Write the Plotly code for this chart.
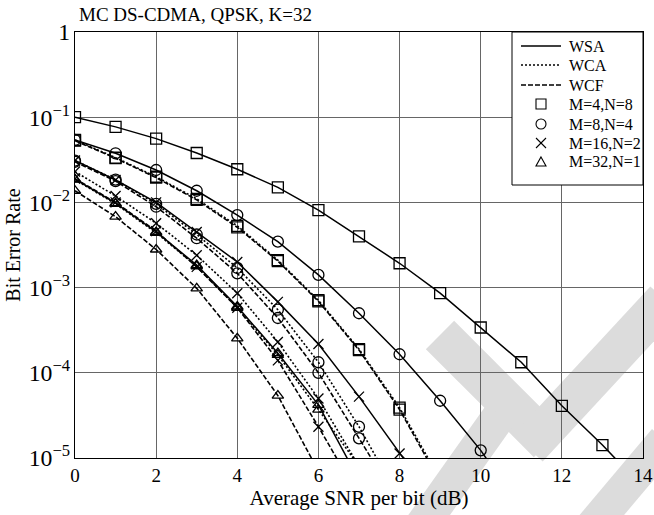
import math
import plotly.graph_objects as go

# ---------------- data ----------------
snr_db = list(range(0, 15))

sq_wsa = [1.0e-1, 7.7e-2, 5.6e-2, 3.8e-2, 2.45e-2, 1.5e-2, 8.1e-3, 4.0e-3, 1.93e-3,
          8.6e-4, 3.4e-4, 1.33e-4, 4.1e-5, 1.42e-5, 4.5e-6]
sq_wca = [5.4e-2, 3.35e-2, 2.0e-2, 1.1e-2, 5.3e-3, 2.1e-3, 7.1e-4, 1.9e-4, 3.9e-5, 5.6e-6]
sq_wcf = [5.3e-2, 3.3e-2, 1.95e-2, 1.07e-2, 5.1e-3, 2.05e-3, 6.9e-4, 1.85e-4, 3.7e-5, 5.2e-6]

ci_wsa = [5.4e-2, 3.77e-2, 2.4e-2, 1.37e-2, 7.1e-3, 3.46e-3, 1.41e-3, 5.0e-4, 1.65e-4,
          4.7e-5, 1.23e-5, 2.5e-6]
ci_wca = [3.1e-2, 1.85e-2, 9.6e-3, 4.2e-3, 1.7e-3, 5.5e-4, 1.33e-4, 2.33e-5, 3.3e-6]
ci_wcf = [3.0e-2, 1.78e-2, 8.9e-3, 3.8e-3, 1.47e-3, 4.4e-4, 1.0e-4, 1.7e-5, 2.9e-6]

x_wsa = [3.1e-2, 1.83e-2, 1.0e-2, 4.5e-3, 2.0e-3, 6.8e-4, 2.18e-4, 5.25e-5, 1.13e-5, 2.5e-6]
x_wca = [2.3e-2, 1.19e-2, 5.7e-3, 2.4e-3, 8.6e-4, 2.3e-4, 5.0e-5, 8.0e-6]
x_wcf = [1.9e-2, 1.0e-2, 4.6e-3, 1.75e-3, 5.8e-4, 1.4e-4, 2.33e-5, 3.5e-6]

tr_wsa = [1.87e-2, 9.8e-3, 4.5e-3, 1.84e-3, 6.0e-4, 1.7e-4, 4.2e-5, 5.5e-6]
tr_wca = [1.85e-2, 9.6e-3, 4.4e-3, 1.78e-3, 5.8e-4, 1.62e-4, 3.7e-5, 8.0e-6]
tr_wcf = [1.37e-2, 6.8e-3, 2.8e-3, 9.8e-4, 2.54e-4, 5.4e-5, 7.0e-6]

schemes = ["WSA", "WCA", "WCF"]
configs = ["M=4,N=8", "M=8,N=4", "M=16,N=2", "M=32,N=1"]
x_ticks = [0, 2, 4, 6, 8, 10, 12, 14]

title_text = "MC DS-CDMA, QPSK, K=32"
x_title = "Average SNR per bit (dB)"
y_title = "Bit Error Rate"

# ---------------- styles ----------------
FONT = "Liberation Serif"
dash_of = {"WSA": "solid", "WCA": "2px,2px", "WCF": "5px,2px"}
symbol_of = {"M=4,N=8": "square-open", "M=8,N=4": "circle-open",
             "M=16,N=2": "x-thin-open", "M=32,N=1": "triangle-up-open"}
size_of = {"M=4,N=8": 11, "M=8,N=4": 11, "M=16,N=2": 10, "M=32,N=1": 10}

series = [
    ("M=4,N=8", "WSA", sq_wsa), ("M=4,N=8", "WCA", sq_wca), ("M=4,N=8", "WCF", sq_wcf),
    ("M=8,N=4", "WSA", ci_wsa), ("M=8,N=4", "WCA", ci_wca), ("M=8,N=4", "WCF", ci_wcf),
    ("M=16,N=2", "WSA", x_wsa), ("M=16,N=2", "WCA", x_wca), ("M=16,N=2", "WCF", x_wcf),
    ("M=32,N=1", "WSA", tr_wsa), ("M=32,N=1", "WCA", tr_wca), ("M=32,N=1", "WCF", tr_wcf),
]

fig = go.Figure()

for cfg, sch, vals in series:
    fig.add_trace(go.Scatter(
        x=snr_db[:len(vals)], y=vals, mode="lines+markers", showlegend=False,
        name=f"{sch} {cfg}",
        line=dict(color="black", width=1.5 if sch == "WSA" else 1.6, dash=dash_of[sch]),
        marker=dict(symbol=symbol_of[cfg], size=size_of[cfg], color="black",
                    line=dict(color="black", width=1.3)),
        cliponaxis=True,
    ))

# ---------------- geometry helpers (pixel -> paper) ----------------
L, R, T, B = 75, 643, 32, 458
W, H = R - L, B - T


def pxx(px):
    return (px - L) / W


def pxy(py):
    return (B - py) / H


def path_of(pts):
    return "M " + " L ".join(f"{pxx(a):.4f},{pxy(b):.4f}" for a, b in pts) + " Z"


def band(p0, p1, w):
    dx, dy = p1[0] - p0[0], p1[1] - p0[1]
    n = math.hypot(dx, dy)
    ox, oy = -dy / n * w / 2, dx / n * w / 2
    return path_of([(p0[0] + ox, p0[1] + oy), (p1[0] + ox, p1[1] + oy),
                    (p1[0] - ox, p1[1] - oy), (p0[0] - ox, p0[1] - oy)])


# ---------------- watermark (decorative grey bands) ----------------
bands = [((440, 335), (548, 443), 40), ((528, 448), (665, 300), 40),
         ((415, 535), (500, 415), 34), ((585, 535), (665, 440), 34)]
for p0, p1, w in bands:
    fig.add_shape(type="path", path=band(p0, p1, w), xref="paper", yref="paper",
                  fillcolor="#dcdcdc", line=dict(width=0), layer="below")

# ---------------- legend drawn as shapes + text ----------------
lg_x0, lg_x1, lg_y0, lg_y1 = 512, 643, 32, 185
fig.add_shape(type="rect", xref="paper", yref="paper",
              x0=pxx(lg_x0), x1=pxx(lg_x1), y0=pxy(lg_y1), y1=pxy(lg_y0),
              fillcolor="white", line=dict(color="black", width=1), layer="above")

row_y = [46, 65, 85, 104, 124, 143, 162]
text_x = 567
labels = schemes + configs
for i, sch in enumerate(schemes):
    y = row_y[i]
    fig.add_shape(type="line", xref="paper", yref="paper",
                  x0=pxx(521), x1=pxx(561), y0=pxy(y), y1=pxy(y),
                  line=dict(color="black", width=1.5, dash=dash_of[sch]), layer="above")
mx, ms = 541, 5
for i, cfg in enumerate(configs):
    y = row_y[3 + i]
    ln = dict(color="black", width=1.1)
    if cfg == "M=4,N=8":
        fig.add_shape(type="rect", xref="paper", yref="paper", x0=pxx(mx - ms),
                      x1=pxx(mx + ms), y0=pxy(y + ms), y1=pxy(y - ms), line=ln, layer="above")
    elif cfg == "M=8,N=4":
        fig.add_shape(type="circle", xref="paper", yref="paper", x0=pxx(mx - ms),
                      x1=pxx(mx + ms), y0=pxy(y + ms), y1=pxy(y - ms), line=ln, layer="above")
    elif cfg == "M=16,N=2":
        for s in (1, -1):
            fig.add_shape(type="line", xref="paper", yref="paper", x0=pxx(mx - ms),
                          x1=pxx(mx + ms), y0=pxy(y + s * ms), y1=pxy(y - s * ms),
                          line=ln, layer="above")
    else:
        fig.add_shape(type="path", xref="paper", yref="paper",
                      path=path_of([(mx, y - ms), (mx + ms, y + ms - 1), (mx - ms, y + ms - 1)]),
                      line=ln, layer="above")
for i, lab in enumerate(labels):
    fig.add_annotation(text=lab, x=pxx(text_x), y=pxy(row_y[i]), xref="paper", yref="paper",
                       xanchor="left", yanchor="middle", showarrow=False,
                       font=dict(family=FONT, size=16, color="black"))

fig.add_annotation(text=title_text, x=pxx(77), y=pxy(14), xref="paper", yref="paper",
                   xanchor="left", yanchor="middle", showarrow=False,
                   font=dict(family=FONT, size=19, color="black"))

fig.update_layout(
    width=654, height=515,
    margin=dict(l=L, r=654 - R, t=T, b=515 - B, autoexpand=False),
    paper_bgcolor="white", plot_bgcolor="rgba(0,0,0,0)",
    font=dict(family=FONT, size=19, color="black"),
    showlegend=False,
)
fig.update_xaxes(range=[0, 14], tickvals=x_ticks, showgrid=True, gridcolor="#666",
                 gridwidth=1, showline=True, linecolor="black", linewidth=1.2, mirror=True,
                 ticks="", zeroline=False, automargin=False, tickfont=dict(family=FONT, size=19),
                 title=dict(text=x_title, font=dict(family=FONT, size=21), standoff=4))
fig.update_yaxes(type="log", range=[-5, 0], dtick=1, exponentformat="power",
                 showgrid=True, gridcolor="#666", gridwidth=1, showline=True,
                 linecolor="black", linewidth=1.2, mirror=True, ticks="", zeroline=False,
                 automargin=False, tickfont=dict(family=FONT, size=19),
                 title=dict(text=y_title, font=dict(family=FONT, size=20), standoff=2))

fig.write_html("out.html", config={"displayModeBar": False},
               post_script="document.body.style.margin='0';document.body.style.padding='0';")
